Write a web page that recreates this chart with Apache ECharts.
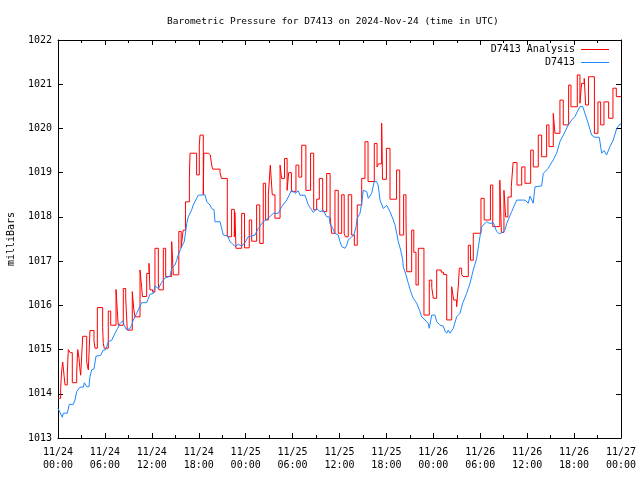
<!DOCTYPE html>
<html><head><meta charset="utf-8">
<script src="https://cdn.jsdelivr.net/npm/echarts@6/dist/echarts.min.js"></script>
<style>html,body{margin:0;padding:0;background:#fff}#c{width:640px;height:480px}</style>
</head><body><div id="c"></div>
<script>
const chartTitle = 'Barometric Pressure for D7413 on 2024-Nov-24 (time in UTC)';
const yAxisName = 'milliBars';
const seriesNames = ['D7413 Analysis', 'D7413'];
const xTickLabels = ['11/24\n00:00','11/24\n06:00','11/24\n12:00','11/24\n18:00','11/25\n00:00','11/25\n06:00','11/25\n12:00','11/25\n18:00','11/26\n00:00','11/26\n06:00','11/26\n12:00','11/26\n18:00','11/27\n00:00'];
const yTickLabels = ['1013','1014','1015','1016','1017','1018','1019','1020','1021','1022'];

// hours since 2024-11-24 00:00 UTC
const stationHours = [0,0.55,0.68,1.19,1.44,1.96,2.17,2.39,2.81,3.24,3.36,3.67,3.96,4.09,4.31,4.6,4.86,5.46,5.79,6.05,6.23,6.43,6.87,7.29,7.63,7.93,8.27,8.48,8.7,9.12,9.42,9.63,10.06,10.7,11.34,11.76,12.19,12.4,12.83,13.26,13.68,14.32,14.54,14.96,15.18,15.38,15.82,16.15,16.46,16.66,17.1,17.3,17.52,17.94,18.8,19.02,19.44,19.65,19.95,20.08,20.72,21.14,21.7,22.0,22.34,22.63,23.06,23.49,23.91,24.34,25.19,25.61,26.25,26.89,27.53,28.17,28.61,29.25,29.89,30.31,30.73,30.95,31.59,32.01,32.44,32.65,33.08,33.5,33.93,34.36,34.69,34.78,35.13,35.42,35.84,36.06,36.28,36.7,36.92,37.12,37.56,37.85,38.11,38.27,38.62,38.84,39.04,39.48,39.68,40.11,40.45,40.75,40.96,41.18,41.6,42.03,42.46,42.88,43.09,43.31,43.52,43.82,44.08,44.16,44.5,44.8,45.1,45.43,45.87,46.29,46.51,46.93,47.35,47.48,47.79,48.21,48.43,48.85,49.27,49.49,49.71,49.91,50.13,50.55,50.98,51.41,51.75,52.26,52.69,53.11,53.54,53.96,54.18,54.82,55.24,55.66,56.1,56.43,56.87,57.16,57.38,57.58,58.02,58.22,58.66,59.72,60.14,60.36,60.78,61.0,61.85,62.06,62.7,62.92,63.34,63.77,64.19,64.62,65.26,65.69,66.11,66.53,66.75,67.1,67.39,67.81,68.24,68.67,69.22,69.53,69.82,70.16,70.59,71.01,71.45,71.87,72];
const stationValues = [1013.67,1013.47,1013.56,1013.56,1013.76,1013.76,1013.86,1014.05,1014.15,1014.15,1014.25,1014.16,1014.16,1014.39,1014.54,1014.56,1014.85,1014.87,1014.99,1014.99,1015.06,1015.18,1015.21,1015.37,1015.48,1015.59,1015.65,1015.55,1015.46,1015.46,1015.55,1015.67,1015.82,1016.06,1016.06,1016.25,1016.27,1016.44,1016.38,1016.52,1016.62,1016.66,1016.84,1016.91,1017.02,1017.14,1017.33,1017.44,1017.85,1018.0,1018.16,1018.27,1018.31,1018.49,1018.5,1018.34,1018.27,1018.19,1018.16,1017.89,1017.89,1017.59,1017.57,1017.44,1017.39,1017.33,1017.38,1017.34,1017.42,1017.55,1017.59,1017.74,1017.89,1017.97,1018.08,1018.08,1018.23,1018.38,1018.61,1018.53,1018.59,1018.49,1018.49,1018.27,1018.16,1018.1,1018.19,1018.12,1018.15,1018.0,1018.0,1017.85,1017.74,1017.63,1017.59,1017.44,1017.33,1017.29,1017.36,1017.48,1017.55,1017.59,1017.78,1017.97,1018.08,1018.31,1018.6,1018.57,1018.42,1018.53,1018.8,1018.8,1018.7,1018.38,1018.19,1018.26,1018.12,1017.93,1017.82,1017.63,1017.44,1017.25,1017.03,1016.87,1016.69,1016.5,1016.31,1016.16,1016.05,1015.86,1015.74,1015.67,1015.59,1015.48,1015.78,1015.78,1015.63,1015.55,1015.53,1015.42,1015.37,1015.44,1015.37,1015.48,1015.74,1015.82,1016.05,1016.27,1016.5,1016.8,1017.06,1017.55,1017.78,1017.89,1017.85,1017.87,1017.67,1017.62,1017.65,1017.7,1017.85,1017.89,1018.12,1018.12,1018.38,1018.38,1018.31,1018.47,1018.31,1018.68,1018.7,1018.98,1019.1,1019.17,1019.29,1019.44,1019.7,1019.85,1020.08,1020.19,1020.27,1020.42,1020.49,1020.5,1020.34,1020.11,1019.85,1019.8,1019.8,1019.44,1019.5,1019.4,1019.59,1019.74,1020.0,1020.1,1020.1];

const analysisHours = [0,0.34,0.47,0.6,0.77,0.9,1.19,1.32,1.55,1.83,2.39,2.52,2.69,2.78,2.9,3.03,3.16,3.67,3.88,4.09,4.6,4.73,5.03,5.71,5.79,5.92,6.43,6.74,7.42,7.63,7.71,8.35,8.66,8.86,9.5,9.7,9.85,10.49,10.7,10.8,11.34,11.64,11.76,12.1,12.4,12.83,12.9,13.47,13.77,14.54,14.75,15.45,15.75,16.0,16.3,16.8,16.88,17.73,18.07,18.16,18.58,18.65,19.22,19.5,19.7,19.8,20.72,20.9,21.65,22.2,22.55,22.62,22.76,23.49,23.85,24.46,24.77,25.4,25.8,26.25,26.55,26.9,27.15,27.4,27.75,28.4,28.6,28.97,29.3,29.5,29.85,30.43,30.8,31.17,31.7,32.3,32.7,33.08,33.42,33.85,34.36,34.8,35.0,35.42,35.84,36.28,36.6,36.75,37.12,37.56,37.9,38.27,38.84,39.26,39.65,40.45,40.8,41.0,41.39,41.5,42.0,42.46,43.3,43.7,44.2,44.5,44.6,45.23,45.5,45.78,46.08,46.8,47.48,47.8,48.0,48.43,49.0,49.3,49.71,50.35,50.6,50.98,51.2,51.33,51.62,51.8,52.47,52.75,53.11,54.09,54.5,55.3,55.6,56.5,56.7,57.03,57.25,57.54,57.97,58.2,58.7,59.3,59.72,60.45,60.78,61.42,61.85,62.49,62.79,63.34,63.55,64.19,64.62,65.3,65.6,66.41,66.75,66.96,67.3,67.48,67.84,68.6,69.05,69.4,69.82,70.42,70.97,71.4,72];
const analysisValues = [1013.9,1014.12,1014.52,1014.72,1014.42,1014.2,1014.47,1015.0,1014.93,1014.25,1014.5,1015.0,1014.8,1014.6,1014.42,1014.86,1015.3,1014.72,1014.54,1015.43,1015.2,1015.03,1015.95,1015.5,1015.14,1015.03,1015.87,1015.55,1016.36,1015.74,1015.55,1016.38,1016.16,1015.44,1016.31,1015.9,1015.74,1016.8,1016.4,1016.2,1016.72,1016.95,1016.35,1016.3,1017.29,1016.5,1016.35,1017.29,1016.65,1017.44,1016.69,1017.67,1017.3,1017.7,1018.34,1018.87,1019.44,1018.95,1019.62,1019.85,1018.5,1019.44,1019.4,1019.35,1019.13,1019.08,1019.0,1018.87,1017.55,1018.17,1017.55,1018.1,1017.29,1018.08,1017.3,1017.93,1017.45,1018.27,1017.4,1018.76,1017.93,1018.5,1019.17,1018.5,1017.97,1019.17,1018.87,1019.32,1018.6,1019.0,1018.57,1019.17,1018.9,1019.62,1018.6,1019.44,1018.16,1018.4,1018.87,1018.12,1018.98,1018.0,1017.63,1018.6,1017.63,1018.5,1017.63,1017.55,1018.5,1017.59,1017.36,1018.27,1018.87,1019.7,1018.8,1019.66,1019.13,1019.2,1020.12,1018.85,1019.55,1018.4,1019.06,1017.59,1018.5,1018.04,1016.76,1017.7,1017.2,1016.46,1017.29,1015.78,1016.57,1016.4,1016.16,1016.8,1016.75,1016.7,1015.67,1016.42,1016.12,1015.97,1016.46,1016.84,1016.7,1016.65,1017.36,1017.02,1017.63,1018.42,1017.93,1018.72,1017.78,1018.83,1017.65,1018.6,1018.0,1018.45,1018.68,1019.23,1018.72,1019.13,1018.76,1019.51,1019.13,1019.85,1019.36,1020.08,1019.59,1020.34,1019.89,1020.64,1020.08,1020.98,1020.49,1021.21,1020.57,1021.02,1021.13,1020.53,1021.17,1019.89,1020.6,1020.08,1020.6,1020.23,1020.91,1020.72,1020.72];

const FONT = 'DejaVu Sans Mono';
const RED = '#ff0000';
const BLUE = '#1e88ff';

const chart = echarts.init(document.getElementById('c'), null, {renderer: 'canvas'});

function xAxisDef(pos, showLabels) {
  return {
    type: 'value', min: 0, max: 72, interval: 6, position: pos,
    axisLine: {show: true, onZero: false, lineStyle: {color: '#000', width: 1}},
    axisTick: {show: true, inside: true, length: 5, lineStyle: {color: '#000', width: 1}},
    minorTick: {show: true, splitNumber: 2, length: 3, lineStyle: {color: '#000', width: 1}},
    splitLine: {show: false},
    axisLabel: {show: showLabels, margin: 8, fontFamily: FONT, fontSize: 10, color: '#000', lineHeight: 13,
      formatter: v => xTickLabels[Math.round(v / 6)]}
  };
}
function yAxisDef(pos, showLabels) {
  return {
    type: 'value', min: 1013, max: 1022, interval: 1, position: pos,
    name: showLabels ? yAxisName : '', nameLocation: 'middle', nameGap: 42, nameRotate: 90,
    nameTextStyle: {fontFamily: FONT, fontSize: 10, color: '#000'},
    axisLine: {show: true, onZero: false, lineStyle: {color: '#000', width: 1}},
    axisTick: {show: true, inside: true, length: 5, lineStyle: {color: '#000', width: 1}},
    splitLine: {show: false},
    axisLabel: {show: showLabels, margin: 6, fontFamily: FONT, fontSize: 10, color: '#000',
      formatter: v => yTickLabels[Math.round(v - 1013)]}
  };
}

const option = {
  animation: false,
  backgroundColor: '#fff',
  title: {text: chartTitle, left: 162, top: 12,
    textStyle: {fontFamily: FONT, fontSize: 9.5, fontWeight: 'normal', color: '#000'}},
  grid: {left: 58, right: 19, top: 40, bottom: 42, containLabel: false, outerBoundsMode: 'none'},
  xAxis: [xAxisDef('bottom', true), xAxisDef('top', false)],
  yAxis: [yAxisDef('left', true), yAxisDef('right', false)],
  graphic: [
    {type: 'text', right: 640 - 575, top: 44, style: {text: seriesNames[0], font: '10px ' + FONT, fill: '#000', textAlign: 'right'}},
    {type: 'line', shape: {x1: 581, y1: 49.5, x2: 609, y2: 49.5}, style: {stroke: RED, lineWidth: 1}},
    {type: 'text', right: 640 - 575, top: 57, style: {text: seriesNames[1], font: '10px ' + FONT, fill: '#000', textAlign: 'right'}},
    {type: 'line', shape: {x1: 581, y1: 62.5, x2: 609, y2: 62.5}, style: {stroke: BLUE, lineWidth: 1}}
  ],
  series: [
    {name: seriesNames[0], type: 'line', step: 'end', showSymbol: false, xAxisIndex: 0, yAxisIndex: 0,
      lineStyle: {color: RED, width: 1}, itemStyle: {color: RED},
      data: analysisHours.map((h, i) => [h, analysisValues[i]])},
    {name: seriesNames[1], type: 'line', showSymbol: false, xAxisIndex: 0, yAxisIndex: 0,
      lineStyle: {color: BLUE, width: 1}, itemStyle: {color: BLUE},
      data: stationHours.map((h, i) => [h, stationValues[i]])}
  ]
};
chart.setOption(option);
</script>
</body></html>
